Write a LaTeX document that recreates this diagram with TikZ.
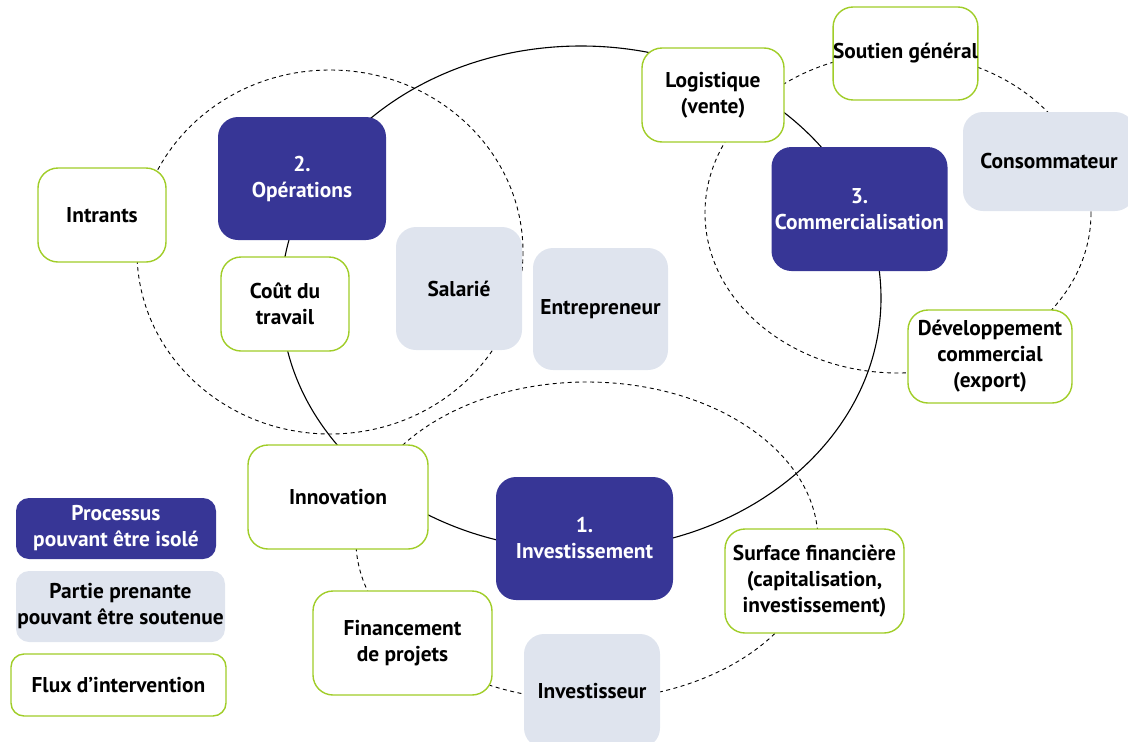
\documentclass[tikz,border=0pt]{standalone}
\usepackage{fontspec}
\setmainfont{PT Sans}
\definecolor{procblue}{RGB}{55,54,150}
\definecolor{partgray}{RGB}{223,228,238}
\definecolor{fluxgreen}{RGB}{160,205,40}
\begin{document}
\begin{tikzpicture}[x=1pt,y=-1pt,
  every node/.style={font=\bfseries\fontsize{21.4}{26}\selectfont, align=center, inner sep=0pt},
  proc/.style={fill=procblue, text=white, rounded corners=20pt},
  part/.style={fill=partgray, text=black, rounded corners=20pt},
  flux/.style={fill=white, draw=fluxgreen, line width=1.4pt, text=black, rounded corners=20pt},
  sz/.style 2 args={minimum width=#1pt, minimum height=#2pt},
  dashcirc/.style={draw=black, line width=0.9pt, dash pattern=on 4pt off 3.5pt},
  solidcirc/.style={draw=black, line width=1.1pt}]
\useasboundingbox (0,0) rectangle (1128,742);
% circles
\draw[solidcirc] (581,298) ellipse [x radius=300, y radius=252];
\draw[dashcirc] (330,252) ellipse [x radius=193, y radius=182];
\draw[dashcirc] (898,213) ellipse [x radius=193, y radius=160];
\draw[dashcirc] (587,541) ellipse [x radius=231, y radius=159];
% nodes
\node[flux, sz={128}{94}] (intr) at (102,215) {Intrants};
\node[proc, sz={168}{123}] (ops) at (302,178.5) {2.\\Opérations};
\node[flux, sz={128}{94}] (cout) at (285,304) {Coût du\\travail};
\node[part, sz={126}{123}] (sal) at (459,288.5) {Salarié};
\node[part, sz={135}{122}] (entr) at (600.5,309) {Entrepreneur};
\node[flux, sz={142}{94}] (logi) at (713,95) {Logistique\\(vente)};
\node[flux, sz={142}{93}] (sout) at (905.5,53.5) {Soutien général};
\node[part, sz={172}{99}] (cons) at (1049,161.5) {Consommateur};
\node[proc, sz={176}{124}] (comm) at (859.5,209) {3.\\Commercialisation};
\node[flux, sz={164}{93}] (dev) at (990,356.5) {Développement\\commercial\\(export)};
\node[flux, sz={180}{104}] (innov) at (338,497) {Innovation};
\node[proc, sz={177}{123}] (inv1) at (584.5,538.5) {1.\\Investissement};
\node[flux, sz={179}{104}] (surf) at (814.5,581) {Surface financière\\(capitalisation,\\investissement)};
\node[flux, sz={179}{104}] (fin) at (402.5,643) {Financement\\de projets};
\node[part, sz={136}{114}] (invs) at (592,691) {Investisseur};
% legend
\node[proc, rounded corners=13pt, sz={200}{61}] (leg1) at (116,528.5) {Processus\\pouvant être isolé};
\node[part, rounded corners=13pt, sz={209}{71}] (leg2) at (120.5,606.5) {Partie prenante\\pouvant être soutenue};
\node[flux, rounded corners=13pt, sz={215}{62}] (leg3) at (118.5,685) {Flux d’intervention};
\end{tikzpicture}
\end{document}
